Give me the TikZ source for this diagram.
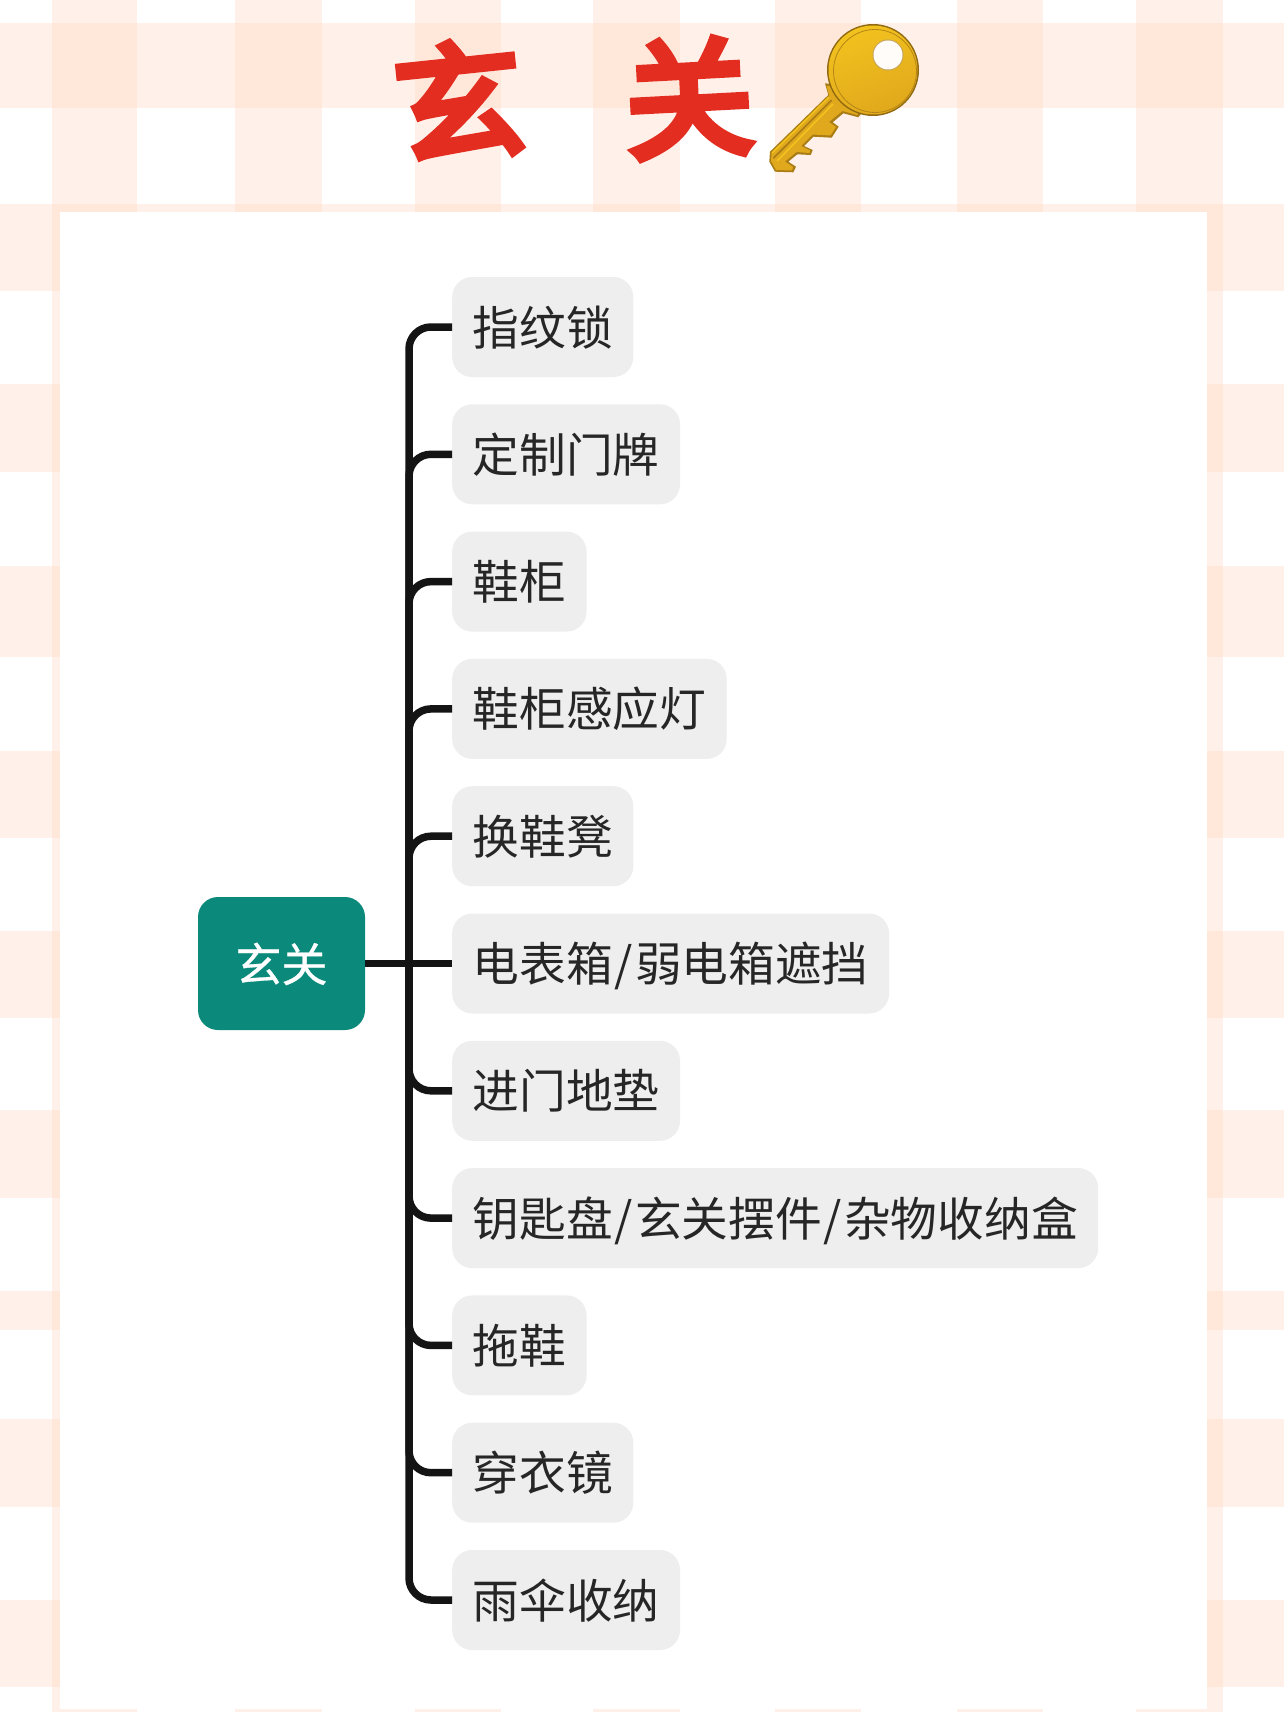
\documentclass[tikz,border=0pt]{standalone}
\usepackage{fontspec}
\setmainfont{Noto Sans CJK SC}
\newfontfamily\titlefont[FakeBold=6]{Noto Sans CJK SC}
\newfontfamily\rootfont[FakeBold=0.6]{Noto Sans CJK SC}
\usetikzlibrary{shadings}
\definecolor{bandc}{HTML}{FFD5BE}
\definecolor{boxc}{HTML}{EEEEEE}
\definecolor{rootc}{HTML}{0B8A7B}
\definecolor{linec}{HTML}{141414}
\definecolor{txtc}{HTML}{262626}
\definecolor{titlec}{HTML}{E32D20}
\definecolor{goldA}{HTML}{F2C21E}
\definecolor{goldB}{HTML}{E0A81C}
\definecolor{goldC}{HTML}{A97C14}
\newcommand{\sls}{\kern2pt/\kern2pt}
\tikzset{
  band/.style={fill=bandc,fill opacity=.33,draw=none},
  itembox/.style={fill=boxc,rounded corners=20pt,anchor=west,minimum height=100pt,inner xsep=20.5pt,inner ysep=0pt,text=txtc,
    font=\fontsize{46.7}{46.7}\selectfont,text height=40pt,text depth=4pt},
  rootbox/.style={fill=rootc,rounded corners=20pt,minimum width=167pt,minimum height=133pt,inner sep=0pt,text=white,
    font=\rootfont\fontsize{46}{46}\selectfont,text height=40pt,text depth=4pt},
  conn/.style={draw=linec,line width=7.5pt},
  branchline/.style={conn,rounded corners=22pt},
  titletxt/.style={text=titlec,inner sep=0pt,font=\titlefont\fontsize{128}{128}\selectfont}
}
\begin{document}
\begin{tikzpicture}[x=1pt,y=-1pt]
\useasboundingbox (0,0) rectangle (1284,1712);
\fill[white] (0,0) rectangle (1284,1712);
% gingham background
\foreach \a/\b in {52/137,235/322,415/501,593/680,775/861,957/1043,1136/1223}
  \fill[band] (\a,0) rectangle (\b,1712);
\foreach \a/\b in {23/108,204/291,384/472,566/657,751/838,931/1018,1110/1198,1291/1330,1419/1507,1600/1687}
  \fill[band] (0,\a) rectangle (1284,\b);
\fill[white] (60,212) rectangle (1207,1709);
% title
\node[titletxt,rotate=6] (t1) at (459,100) {玄};
\node[titletxt,rotate=3] (t2) at (689,98) {关};
% key
\fill[goldC] (825,83.3) -- (828.3,95) -- (770,151.7) -- (769.3,161.7) -- (775,171.7) -- (793.3,172.3) -- (796,166.7) -- (788.3,161.7)
  -- (797.3,154.3) -- (810.7,155) -- (812.7,150) -- (804,146) -- (813.3,136.7) -- (831.7,137.7) -- (838.7,126.7) -- (832.7,122.3)
  -- (843.3,113.3) -- (858.3,117.3) -- (880,90) -- cycle;
\fill[goldB] (826.5,86) -- (829.5,96.5) -- (771.5,153) -- (771,161) -- (776,170) -- (792,170.5) -- (793,167) -- (785,161.5)
  -- (796.5,152) -- (809.5,153) -- (810,150.5) -- (801,146) -- (812.5,134.5) -- (830.5,135.5) -- (836,127) -- (829,122)
  -- (842.5,111) -- (857,115) -- (878,90) -- cycle;
\draw[goldC,line width=1.6pt] (831.7,100) -- (773.3,158.3);
\draw[goldA,line width=1.6pt] (829,97) -- (772,153);
\draw[goldA,line width=1.6pt] (833,104) -- (777,161);
\fill[goldC!85!black] (873,70) circle[radius=46];
\shade[top color=goldA,bottom color=goldB,shading angle=20] (873,70) circle[radius=44.5];
\draw[goldC!80!goldB,line width=.8pt] (875,71) circle[radius=41.5];
\fill[goldC!70!white] (888,55) circle[radius=15.5];
\fill[white!92!bandc] (888,55) circle[radius=14.5];
% mind map
\node[rootbox] (root) at (281.5,963.5) {玄关};
\node[itembox] (n1) at (452,327) {指纹锁};
\node[itembox] (n2) at (452,454.3) {定制门牌};
\node[itembox] (n3) at (452,581.6) {鞋柜};
\node[itembox] (n4) at (452,708.9) {鞋柜感应灯};
\node[itembox] (n5) at (452,836.2) {换鞋凳};
\node[itembox] (n6) at (452,963.5) {电表箱\sls 弱电箱遮挡};
\node[itembox] (n7) at (452,1090.8) {进门地垫};
\node[itembox] (n8) at (452,1218.1) {钥匙盘\sls 玄关摆件\sls 杂物收纳盒};
\node[itembox] (n9) at (452,1345.4) {拖鞋};
\node[itembox] (n10) at (452,1472.7) {穿衣镜};
\node[itembox] (n11) at (452,1600) {雨伞收纳};
\coordinate (hub) at (409,963.5);
\draw[conn] (root.east) -- (n6.west);
\foreach \n in {n1,n2,n3,n4,n5,n7,n8,n9,n10,n11}
  \draw[branchline] (\n.west) -| (hub);
\end{tikzpicture}
\end{document}
